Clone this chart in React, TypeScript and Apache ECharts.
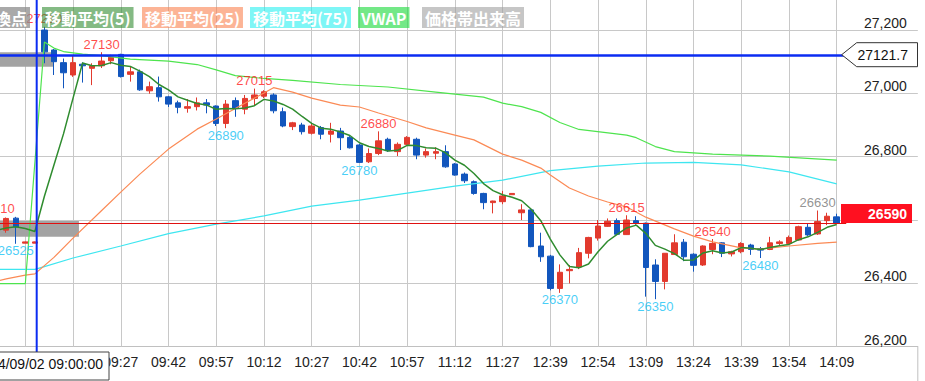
import React, { useEffect, useRef } from 'react';
import * as echarts from 'echarts';

// ---- categories (3-minute candles) ----
const times = [
  '08:48','08:51','08:54','08:57','09:00','09:03','09:06','09:09','09:12','09:15','09:18','09:21','09:24','09:27','09:30','09:33','09:36','09:39','09:42','09:45','09:48','09:51','09:54','09:57',
  '10:00','10:03','10:06','10:09','10:12','10:15','10:18','10:21','10:24','10:27','10:30','10:33','10:36','10:39','10:42','10:45','10:48','10:51','10:54','10:57',
  '11:00','11:03','11:06','11:09','11:12','11:15','11:18','11:21','11:24','11:27','11:30',
  '12:30','12:33','12:36','12:39','12:42','12:45','12:48','12:51','12:54','12:57',
  '13:00','13:03','13:06','13:09','13:12','13:15','13:18','13:21','13:24','13:27','13:30','13:33','13:36','13:39','13:42','13:45','13:48','13:51','13:54','13:57',
  '14:00','14:03','14:06','14:09','14:12','14:15','14:18','14:21','14:24','14:27','14:30','14:33'
];

// ---- candles (from 08:48 to 14:09) ----
const opens = [
  26585,26568,26606,26527,26527,27200,27137,27097,27058,27092,27079,27087,27103,27123,27060,27068,27008,27018,26989,26970,
  26953,26958,26970,26960,26905,26977,26950,26984,26991,26995,26942,26895,26900,26874,26892,26871,26881,26861,26837,26784,
  26810,26855,26816,26839,26855,26805,26811,26816,26777,26745,26721,26684,26655,26658,26680,26623,26632,26518,26486,26384,
  26440,26452,26495,26543,26580,26598,26554,26598,26590,26458,26406,26491,26530,26492,26458,26507,26528,26493,26500,26521,
  26510,26507,26526,26526,26537,26577,26556,26598,26610
];
const closes = [
  26600,26605,26578,26531,26531,27131,27100,27065,27097,27087,27087,27102,27114,27053,27068,27011,27021,26989,26966,26956,
  26958,26970,26963,26905,26966,26953,26984,26995,27005,26945,26897,26907,26879,26897,26871,26881,26860,26828,26782,26810,
  26850,26819,26839,26861,26805,26816,26816,26768,26742,26724,26684,26655,26660,26676,26684,26632,26516,26484,26384,26435,
  26444,26497,26545,26581,26596,26555,26600,26590,26450,26406,26495,26528,26484,26457,26518,26526,26495,26500,26526,26507,
  26505,26528,26531,26545,26579,26553,26595,26612,26590
];
const lows = [
  26575,26560,26525,26527,26527,27095,27058,27016,27052,27034,27026,27080,27092,27050,27037,27008,26999,26974,26957,26937,
  26939,26946,26937,26897,26890,26926,26934,26961,26985,26937,26893,26884,26870,26870,26855,26845,26821,26826,26780,26780,
  26805,26815,26802,26835,26792,26797,26792,26765,26740,26717,26680,26634,26621,26650,26680,26600,26514,26468,26378,26370,
  26400,26445,26479,26535,26578,26555,26553,26585,26358,26350,26381,26490,26470,26437,26455,26492,26483,26485,26495,26490,
  26480,26505,26520,26524,26535,26550,26553,26584,26588
];
const highs = [
  26610,26608,26610,26532,26532,27210,27140,27110,27118,27098,27095,27130,27122,27125,27084,27075,27037,27053,26992,26977,
  26982,26987,26982,26962,26979,26987,26995,27015,27010,27000,26955,26910,26907,26904,26897,26907,26891,26865,26840,26826,
  26880,26860,26845,26865,26860,26826,26830,26836,26780,26750,26725,26686,26661,26692,26684,26650,26634,26560,26490,26460,
  26458,26512,26547,26600,26605,26605,26615,26612,26592,26476,26495,26555,26540,26495,26520,26540,26530,26503,26530,26525,
  26515,26547,26536,26551,26582,26590,26630,26623,26620
];

// ---- moving averages / VWAP ----
const ma5 = [
  26567,26575,26579,26573,26564,26675,26774,26872,26985,27096,27087,27088,27097,27089,27085,27070,27053,27028,27011,26989,
  26978,26968,26963,26950,26952,26951,26954,26961,26981,26976,26965,26950,26927,26905,26890,26887,26878,26867,26844,26832,
  26826,26818,26820,26836,26835,26828,26827,26813,26789,26773,26747,26715,26693,26680,26672,26661,26634,26598,26540,26490,
  26453,26449,26461,26500,26533,26555,26575,26584,26558,26520,26508,26494,26473,26474,26496,26503,26496,26499,26513,26511,
  26507,26513,26519,26523,26538,26547,26561,26577,26586
];
const ma25Points = [
  ['08:48',26407],['08:51',26414],['08:57',26426],['09:00',26430],['09:03',26456],['09:06',26482],['09:12',26543],
  ['09:21',26630],['09:27',26688],['09:33',26745],['09:42',26824],['09:51',26887],['09:57',26919],['10:06',26969],
  ['10:12',27001],['10:15',27018],['10:21',27004],['10:27',26985],['10:36',26963],['10:42',26957],['10:48',26938],
  ['10:57',26911],['11:03',26891],['11:12',26868],['11:18',26853],['11:27',26808],['12:30',26789],['12:36',26764],
  ['12:39',26742],['12:45',26701],['12:51',26676],['12:57',26657],['13:03',26641],['13:09',26609],['13:18',26572],
  ['13:24',26549],['13:30',26531],['13:39',26512],['13:45',26508],['13:54',26518],['14:03',26526],['14:09',26530]
];
const ma75Points = [
  ['08:48',26444],['09:00',26444],['09:03',26453],['09:12',26480],['09:27',26518],['09:42',26557],['09:57',26587],
  ['10:12',26613],['10:27',26644],['10:42',26663],['10:57',26685],['11:12',26707],['11:27',26726],['12:39',26756],
  ['12:54',26770],['13:09',26780],['13:24',26782],['13:39',26774],['13:54',26752],['14:09',26714]
];
const vwapPoints = [
  ['08:48',26399],['08:57',26399],['09:03',27162],['09:06',27143],['09:09',27132],['09:15',27124],['09:21',27119],
  ['09:30',27108],['09:42',27102],['09:51',27091],['09:57',27074],['10:03',27056],['10:12',27047],['10:21',27041],
  ['10:36',27028],['10:51',27020],['11:06',27004],['11:21',26988],['11:27',26969],['12:30',26958],['12:36',26940],
  ['12:42',26908],['12:48',26886],['13:03',26868],['13:06',26860],['13:12',26832],['13:18',26816],['13:30',26808],
  ['13:48',26802],['14:09',26789]
];

// ---- high / low markers ----
const highMarks = [['08:48',26610],['09:03',27210],['09:21',27130],['10:09',27015],['10:48',26880],['13:03',26615],['13:30',26540]];
const lowMarks = [['08:54',26525],['10:00',26890],['10:42',26780],['12:42',26370],['13:12',26350],['13:45',26480]];
const lastHighMarks = [['14:03',26630]];

// ---- volume at price: [low, high, share of volume] ----
const volumeProfile = [[27084,27130,6.6],[26547,26597,9.4]];

// ---- axis ticks ----
const gridTimes = ['08:57','09:12','09:27','09:42','09:57','10:12','10:27','10:42','10:57','11:12','11:27','12:39','12:54','13:09','13:24','13:39','13:54','14:09'];
const hiddenTimeLabels = ['08:57','09:12']; // under the crosshair time box
const yMin = 26200;
const yMax = 27294.8;
const yStep = 200;

const currentPrice = 26590;
const crosshairPrice = 27121.7;
const crosshairTime = '2024/09/02 09:00:00';

const legendNames = ['転換点','移動平均(5)','移動平均(25)','移動平均(75)','VWAP','価格帯出来高'];

const FONT = '"Liberation Sans", Arial, sans-serif';
const CJK = '"Noto Sans CJK JP", sans-serif';
const RED = '#e23a2e';
const BLUE = '#1256bd';
const GRID = '#c8c8c8';
const OFF = 40; // the canvas starts 40px left of the page so the plot can begin off-screen

export default function App() {
  const ref = useRef<HTMLDivElement>(null);
  useEffect(() => {
    if (!ref.current) return;
    const chart = echarts.init(ref.current, null, { renderer: 'svg' });
    const candles = opens.map((o, k) => [o, closes[k], lows[k], highs[k]]);
    const legendX = [-24, 42, 142, 250, 358, 422];
    const legendBg = ['rgba(140,140,140,0.75)','rgba(50,140,50,0.6)','rgba(250,130,80,0.6)','rgba(40,240,240,0.6)','rgba(40,220,70,0.65)','rgba(160,160,160,0.6)'];

    const markLabel = (color: string, pos: string, dist: number) => ({
      show: true, position: pos, distance: dist, color, fontSize: 13, fontFamily: FONT,
      formatter: (p: any) => String(p.value[1])
    });

    const option: any = {
      animation: false,
      backgroundColor: '#fff',
      grid: { left: OFF - 8.1, right: 7.16, top: 0, bottom: 34.3, containLabel: false },
      xAxis: [
        {
          type: 'category', data: times, boundaryGap: true,
          axisLine: { show: true, lineStyle: { color: '#c0c0c0' } },
          axisTick: { show: false },
          splitLine: { show: false },
          axisLabel: {
            interval: (_i: number, v: string) => gridTimes.includes(v) && !hiddenTimeLabels.includes(v),
            color: '#222', fontSize: 14, fontFamily: FONT, margin: 8
          }
        },
        { type: 'value', min: 0, max: 100, show: false, gridIndex: 0 }
      ],
      yAxis: {
        type: 'value', position: 'right', min: yMin, max: yMax, interval: yStep, scale: true,
        axisLine: { show: true, lineStyle: { color: '#c0c0c0' } },
        axisTick: { show: false },
        splitLine: { show: true, showMaxLine: false, lineStyle: { color: GRID, width: 1 } },
        axisLabel: {
          inside: true, align: 'right', verticalAlign: 'bottom', margin: 11,
          color: '#222', fontSize: 14, fontFamily: FONT, showMaxLabel: false,
          formatter: (v: number) => (Math.abs(v % yStep) < 1e-6 && Math.abs(v - currentPrice) > 40 ? v.toLocaleString('en-US') : '')
        }
      },
      series: [
        {
          type: 'custom', name: 'vp', xAxisIndex: 1, yAxisIndex: 0, z: 1,
          data: volumeProfile, encode: { x: 2, y: [0, 1] }, silent: true,
          renderItem: (params: any, api: any) => {
            const p0 = api.coord([0, api.value(1)]);
            const p1 = api.coord([api.value(2), api.value(0)]);
            return { type: 'rect', shape: { x: p0[0], y: p0[1], width: p1[0] - p0[0], height: p1[1] - p0[1] }, style: { fill: '#a3a3a3' } };
          }
        },
        {
          type: 'line', name: 'gridlines', data: [], z: 1, silent: true,
          markLine: {
            z: 1, silent: true, symbol: 'none', label: { show: false },
            lineStyle: { color: GRID, width: 1, type: 'solid' },
            data: gridTimes.map((t) => ({ xAxis: t }))
          }
        },
        {
          type: 'candlestick', name: 'price', data: candles, barWidth: 6, z: 3,
          itemStyle: { color: RED, color0: BLUE, borderColor: RED, borderColor0: BLUE, borderWidth: 1 },
          markLine: {
            silent: true, symbol: 'none', label: { show: false },
            data: [
              [{ coord: [times[0], currentPrice], lineStyle: { color: '#e01010', width: 1, type: 'solid' } }, { coord: ['14:12', currentPrice] }],
              [{ coord: [times[0], crosshairPrice], lineStyle: { color: '#0b2cf2', width: 2.5, type: 'solid' } }, { coord: ['14:12', crosshairPrice] }]
            ]
          }
        },
        { type: 'line', name: 'MA75', data: ma75Points, showSymbol: false, z: 4, lineStyle: { color: '#3ee6f0', width: 1.2 } },
        { type: 'line', name: 'MA25', data: ma25Points, showSymbol: false, z: 4, lineStyle: { color: '#fb8a55', width: 1.2 } },
        { type: 'line', name: 'VWAP', data: vwapPoints, showSymbol: false, z: 4, lineStyle: { color: '#4ee44e', width: 1.2 } },
        { type: 'line', name: 'MA5', data: ma5, showSymbol: false, z: 4, lineStyle: { color: '#2f8c2f', width: 1.5 } },
        { type: 'scatter', name: 'hi', data: highMarks, symbolSize: 1, z: 5, itemStyle: { color: 'rgba(0,0,0,0)' }, label: markLabel('#ff1a1a', 'top', 1) },
        { type: 'scatter', name: 'lo', data: lowMarks, symbolSize: 1, z: 5, itemStyle: { color: 'rgba(0,0,0,0)' }, label: markLabel('#16c2f5', 'bottom', 0) },
        { type: 'scatter', name: 'last', data: lastHighMarks, symbolSize: 1, z: 5, itemStyle: { color: 'rgba(0,0,0,0)' }, label: markLabel('#777777', 'top', 1) }
      ],
      graphic: {
        elements: [
          ...legendNames.map((t, k) => ({
            type: 'text', x: OFF + legendX[k], y: 7, z: 100,
            style: { text: t, fill: '#fff', fontSize: 16, fontWeight: 'bold', fontFamily: CJK, backgroundColor: legendBg[k], padding: [3, 3, 2, 3], verticalAlign: 'top', align: 'left' }
          })),
          { type: 'line', z: 90, shape: { x1: OFF + 36.7, y1: 0, x2: OFF + 36.7, y2: 352 }, style: { stroke: '#0b2cf2', lineWidth: 2 } },
          { type: 'rect', z: 100, shape: { x: OFF - 31, y: 352, width: 140, height: 28 }, style: { fill: '#fff', stroke: '#444', lineWidth: 1 } },
          { type: 'text', z: 101, x: OFF + 103, y: 364, style: { text: crosshairTime, fill: '#111', fontSize: 14, fontFamily: FONT, align: 'right', verticalAlign: 'middle' } },
          { type: 'polygon', z: 100, shape: { points: [[OFF + 841.7, 54.7], [OFF + 856.7, 42.7], [OFF + 917.5, 42.7], [OFF + 917.5, 66.7], [OFF + 856.7, 66.7]] }, style: { fill: '#fff', stroke: '#333', lineWidth: 1 } },
          { type: 'text', z: 101, x: OFF + 908, y: 55, style: { text: String(crosshairPrice), fill: '#111', fontSize: 14, fontFamily: FONT, align: 'right', verticalAlign: 'middle' } },
          { type: 'rect', z: 100, shape: { x: OFF + 841, y: 204, width: 71, height: 19 }, style: { fill: '#ff1020' } },
          { type: 'text', z: 101, x: OFF + 907, y: 214, style: { text: String(currentPrice), fill: '#fff', fontSize: 14, fontWeight: 'bold', fontFamily: FONT, align: 'right', verticalAlign: 'middle' } },
          { type: 'line', z: 90, shape: { x1: OFF + 917.8, y1: 346.7, x2: OFF + 917.8, y2: 381 }, style: { stroke: '#c0c0c0', lineWidth: 1 } }
        ]
      }
    };
    chart.setOption(option);
    return () => chart.dispose();
  }, []);
  return <div ref={ref} style={{ position: 'absolute', left: -OFF, top: 0, width: 925 + OFF, height: 381 }} />;
}
